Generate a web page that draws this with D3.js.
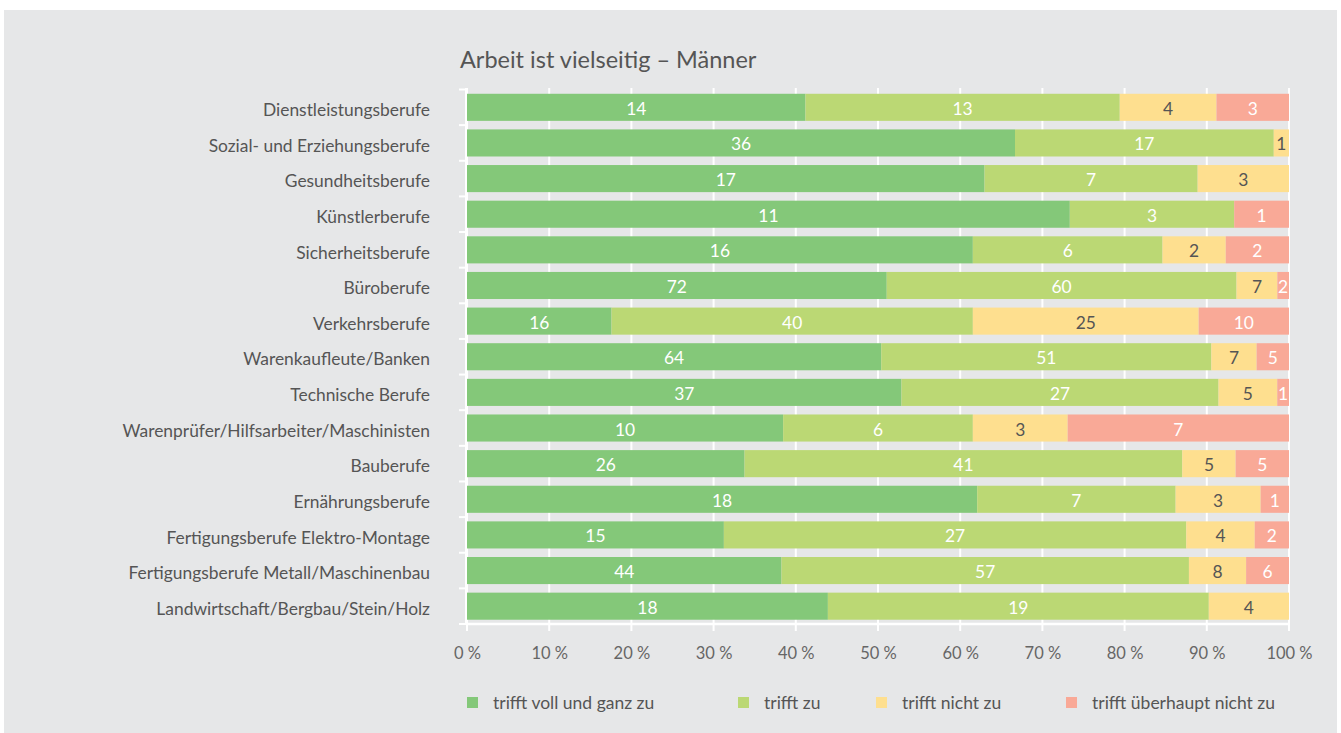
<!DOCTYPE html>
<html>
<head>
<meta charset="utf-8">
<script src="https://cdn.jsdelivr.net/npm/d3@7"></script>
<style>
  body { margin: 0; background: #fff; }
  text { font-family: Lato, "Open Sans", sans-serif; }
</style>
</head>
<body>
<script>
const w = 1341;
const h = 733;

// data: counts per answer category
const categories = [
  "Dienstleistungsberufe",
  "Sozial- und Erziehungsberufe",
  "Gesundheitsberufe",
  "Künstlerberufe",
  "Sicherheitsberufe",
  "Büroberufe",
  "Verkehrsberufe",
  "Warenkaufleute/Banken",
  "Technische Berufe",
  "Warenprüfer/Hilfsarbeiter/Maschinisten",
  "Bauberufe",
  "Ernährungsberufe",
  "Fertigungsberufe Elektro-Montage",
  "Fertigungsberufe Metall/Maschinenbau",
  "Landwirtschaft/Bergbau/Stein/Holz"
];
const vollUndGanz = [14, 36, 17, 11, 16, 72, 16, 64, 37, 10, 26, 18, 15, 44, 18];
const triffZu     = [13, 17,  7,  3,  6, 60, 40, 51, 27,  6, 41,  7, 27, 57, 19];
const nichtZu     = [ 4,  1,  3,  0,  2,  7, 25,  7,  5,  3,  5,  3,  4,  8,  4];
const ueberhaupt  = [ 3,  0,  0,  1,  2,  2, 10,  5,  1,  7,  5,  1,  2,  6,  0];

const seriesNames = ["trifft voll und ganz zu", "trifft zu", "trifft nicht zu", "trifft überhaupt nicht zu"];
const colors = ["#84c879", "#bbd874", "#fedf8f", "#f9a997"];
const labelColors = ["#fff", "#fff", "#555", "#fff"];
const xTicks = [0, 0.1, 0.2, 0.3, 0.4, 0.5, 0.6, 0.7, 0.8, 0.9, 1];
const legendX = [467, 738, 876, 1066];

const rows = categories.map((c, i) => {
  const vals = [vollUndGanz[i], triffZu[i], nichtZu[i], ueberhaupt[i]];
  const total = d3.sum(vals);
  return { cat: c, vals: vals, total: total };
});

const svg = d3.select("body")
              .append("svg")
              .attr("width", w)
              .attr("height", h);

svg.append("rect")
   .attr("x", 4).attr("y", 10)
   .attr("width", 1333).attr("height", 723)
   .attr("fill", "#e6e7e8");

const xScale = d3.scaleLinear().domain([0, 1]).range([467, 1289]);
const yScale = d3.scaleBand().domain(categories).range([89.5, 624]).paddingInner(0.24).paddingOuter(0.12);

// title
svg.append("text")
   .attr("x", 460).attr("y", 68)
   .attr("font-size", 23.5)
   .attr("fill", "#555")
   .text("Arbeit ist vielseitig – Männer");

// grid lines
svg.append("g")
   .selectAll("line")
   .data(xTicks)
   .join("line")
   .attr("x1", d => xScale(d)).attr("x2", d => xScale(d))
   .attr("y1", 88).attr("y2", 631)
   .attr("stroke", "#fff")
   .attr("stroke-width", 2);

// left axis
const yAxis = d3.axisLeft(yScale).tickSize(0).tickPadding(36);
const gy = svg.append("g")
   .attr("transform", "translate(466,0)")
   .call(yAxis);
gy.select(".domain").remove();
gy.selectAll("text")
  .attr("font-size", 17.4)
  .attr("dy", "0.5em")
  .attr("fill", "#555")
  .style("font-family", "Lato, sans-serif");

svg.append("line")
   .attr("x1", 466).attr("x2", 466)
   .attr("y1", 88).attr("y2", 624)
   .attr("stroke", "#fff").attr("stroke-width", 2);

const boundaries = d3.range(categories.length + 1).map(i => 89.5 + i * (624 - 89.5) / categories.length);
svg.append("g")
   .selectAll("line")
   .data(boundaries)
   .join("line")
   .attr("x1", 459).attr("x2", 466)
   .attr("y1", d => d).attr("y2", d => d)
   .attr("stroke", "#fff").attr("stroke-width", 2);

// bottom axis
const xAxis = d3.axisBottom(xScale)
   .tickValues(xTicks)
   .tickSize(0)
   .tickPadding(23)
   .tickFormat(d => Math.round(d * 100) + " %");
const gx = svg.append("g")
   .attr("transform", "translate(0,624)")
   .call(xAxis);
gx.select(".domain").remove();
gx.selectAll("text")
  .attr("font-size", 16.5)
  .attr("fill", "#666")
  .style("font-family", "Lato, sans-serif");

svg.append("line")
   .attr("x1", 466).attr("x2", 1290)
   .attr("y1", 624).attr("y2", 624)
   .attr("stroke", "#fff").attr("stroke-width", 2.5);

// bars
const rowG = svg.append("g")
   .selectAll("g")
   .data(rows)
   .join("g")
   .attr("transform", d => "translate(0," + yScale(d.cat) + ")");

const segs = rowG.selectAll("g")
   .data(d => {
     let acc = 0;
     return d.vals.map((v, k) => {
       const s = { k: k, v: v, x0: acc / d.total, x1: (acc + v) / d.total };
       acc += v;
       return s;
     }).filter(s => s.v > 0);
   })
   .join("g");

segs.append("rect")
   .attr("x", d => xScale(d.x0))
   .attr("width", d => xScale(d.x1) - xScale(d.x0))
   .attr("height", yScale.bandwidth())
   .attr("fill", d => colors[d.k]);

segs.append("text")
   .attr("x", d => (xScale(d.x0) + xScale(d.x1)) / 2)
   .attr("y", yScale.bandwidth() / 2 + 7.5)
   .attr("text-anchor", "middle")
   .attr("font-size", 17.4)
   .attr("fill", d => labelColors[d.k])
   .text(d => d.v);

// legend
const leg = svg.append("g")
   .selectAll("g")
   .data(seriesNames)
   .join("g")
   .attr("transform", (d, i) => "translate(" + legendX[i] + ",697)");

leg.append("rect")
   .attr("width", 11).attr("height", 11)
   .attr("fill", (d, i) => colors[i]);

leg.append("text")
   .attr("x", 26).attr("y", 11.5)
   .attr("font-size", 17.5)
   .attr("fill", "#555")
   .text(d => d);
</script>
</body>
</html>
